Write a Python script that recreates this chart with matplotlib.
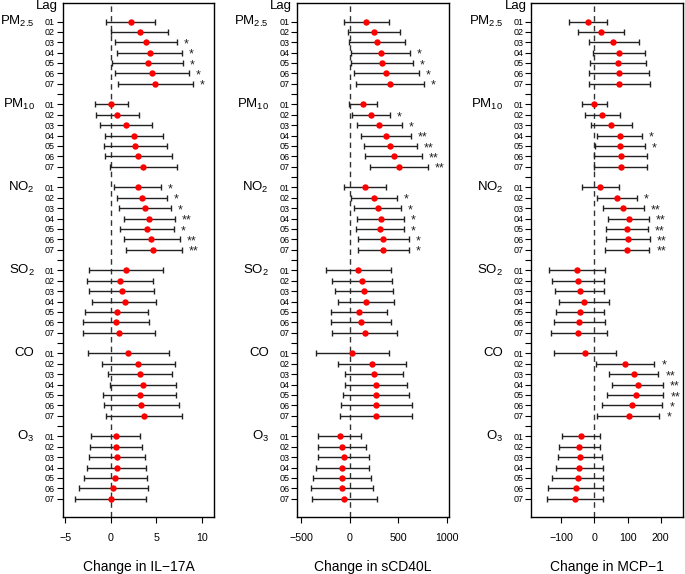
import matplotlib
matplotlib.use("Agg")
import matplotlib.pyplot as plt
import matplotlib.transforms as mtransforms

plt.rcParams["font.family"] = ["Liberation Sans", "DejaVu Sans"]
plt.rcParams["mathtext.default"] = "regular"

POLLUTANTS = ["PM$_{2.5}$", "PM$_{10}$", "NO$_{2}$", "SO$_{2}$", "CO", "O$_{3}$"]
LAGS = ["01", "02", "03", "04", "05", "06", "07"]

# IL-17A: estimate, lower CI, upper CI, significance (one row per pollutant)
IL17_EST = [
    [2.2, 3.2, 3.9, 4.26, 4.08, 4.52, 4.89],
    [0.04, 0.7, 1.62, 2.54, 2.65, 3.01, 3.53],
    [2.94, 3.42, 3.79, 4.23, 3.97, 4.45, 4.67],
    [1.69, 0.99, 1.21, 1.51, 0.63, 0.55, 0.92],
    [1.91, 3.01, 3.24, 3.49, 3.16, 3.35, 3.64],
    [0.59, 0.59, 0.66, 0.66, 0.51, 0.29, 0.0],
]
IL17_LO = [
    [-0.55, 0.0, 0.5, 0.66, 0.18, 0.48, 0.77],
    [-1.73, -1.65, -1.18, -0.63, -0.77, -0.63, -0.11],
    [0.4, 0.66, 0.92, 1.4, 1.03, 1.43, 1.62],
    [-2.35, -2.61, -2.35, -2.06, -2.83, -3.09, -3.05],
    [-2.5, -0.99, -0.26, -0.11, -0.85, -0.77, -0.55],
    [-2.13, -2.32, -2.39, -2.57, -2.98, -3.46, -3.9],
]
IL17_HI = [
    [4.9, 6.3, 7.3, 7.83, 7.94, 8.57, 9.0],
    [1.84, 3.09, 4.49, 5.74, 6.18, 6.73, 7.24],
    [5.51, 6.18, 6.65, 7.02, 6.95, 7.57, 7.79],
    [5.74, 4.63, 4.74, 5.0, 4.08, 4.19, 4.89],
    [6.4, 7.02, 6.69, 7.13, 7.17, 7.54, 7.83],
    [3.2, 3.46, 3.71, 3.9, 4.0, 4.12, 3.9],
]
IL17_SIG = [
    ["", "", "*", "*", "*", "*", "*"],
    ["", "", "", "", "", "", ""],
    ["*", "*", "*", "**", "*", "**", "**"],
    ["", "", "", "", "", "", ""],
    ["", "", "", "", "", "", ""],
    ["", "", "", "", "", "", ""],
]

# sCD40L
CD40_EST = [
    [171, 250, 281, 318, 332, 373, 414],
    [137, 219, 305, 373, 418, 452, 507],
    [158, 250, 288, 318, 312, 346, 342],
    [89, 127, 147, 168, 96, 116, 154],
    [27, 226, 250, 271, 271, 271, 267],
    [-103, -82, -62, -75, -79, -82, -55],
]
CD40_LO = [
    [-55, -17, -3, 17, 10, 41, 68],
    [-10, 24, 75, 116, 144, 158, 212],
    [-58, 17, 45, 79, 62, 89, 82],
    [-243, -182, -147, -123, -192, -188, -182],
    [-342, -120, -51, -45, -72, -86, -99],
    [-322, -325, -322, -349, -377, -401, -384],
]
CD40_HI = [
    [401, 521, 565, 623, 654, 716, 764],
    [281, 418, 538, 634, 695, 747, 805],
    [377, 490, 531, 558, 558, 606, 610],
    [425, 432, 445, 459, 387, 421, 486],
    [401, 579, 548, 589, 616, 637, 637],
    [120, 164, 202, 202, 223, 236, 277],
]
CD40_SIG = [
    ["", "", "", "*", "*", "*", "*"],
    ["", "*", "*", "**", "**", "**", "**"],
    ["", "*", "*", "*", "*", "*", "*"],
    ["", "", "", "", "", "", ""],
    ["", "", "", "", "", "", ""],
    ["", "", "", "", "", "", ""],
]

# MCP-1
MCP_EST = [
    [-20, 20, 57, 74, 72, 74, 75],
    [-1, 23, 51, 76, 77, 79, 79],
    [18, 67, 87, 104, 98, 101, 98],
    [-52, -50, -44, -31, -43, -46, -48],
    [-28, 92, 119, 130, 124, 114, 103],
    [-40, -45, -42, -46, -50, -56, -59],
]
MCP_LO = [
    [-77, -49, -17, -4, -12, -15, -16],
    [-38, -28, -9, 9, 3, 0, 0],
    [-38, 9, 26, 42, 36, 34, 31],
    [-136, -128, -119, -108, -117, -123, -132],
    [-123, 4, 45, 52, 38, 22, 9],
    [-97, -107, -109, -117, -127, -139, -144],
]
MCP_HI = [
    [39, 89, 133, 151, 156, 164, 168],
    [38, 76, 113, 144, 151, 160, 160],
    [75, 129, 149, 164, 162, 167, 166],
    [33, 28, 30, 44, 30, 32, 37],
    [66, 181, 193, 207, 208, 205, 196],
    [16, 16, 24, 25, 25, 25, 25],
]
MCP_SIG = [
    ["", "", "", "", "", "", ""],
    ["", "", "", "*", "*", "", ""],
    ["", "*", "**", "**", "**", "**", "**"],
    ["", "", "", "", "", "", ""],
    ["", "*", "**", "**", "**", "*", "*"],
    ["", "", "", "", "", "", ""],
]

PANELS = [
    ("Change in IL\u221217A", IL17_EST, IL17_LO, IL17_HI, IL17_SIG,
     (-5.3, 11.4), [-5, 0, 5, 10]),
    ("Change in sCD40L", CD40_EST, CD40_LO, CD40_HI, CD40_SIG,
     (-541, 1020), [-500, 0, 500, 1000]),
    ("Change in MCP\u22121", MCP_EST, MCP_LO, MCP_HI, MCP_SIG,
     (-190, 267), [-100, 0, 100, 200]),
]

LEFTS = [0.0915, 0.4336, 0.7756]
WIDTH = 0.2215
BOTTOM = 0.0988
HEIGHT = 0.8968
STEP = len(LAGS) + 1

fig = plt.figure(figsize=(6.85, 5.74), dpi=100)

for left, (xlabel, est, lo, hi, sig, xlim, xticks) in zip(LEFTS, PANELS):
    ax = fig.add_axes([left, BOTTOM, WIDTH, HEIGHT])
    ax.axvline(0, color="#333333", lw=1.0, ls=(0, (4, 3)), zorder=1)
    trans = mtransforms.blended_transform_factory(ax.transAxes, ax.transData)

    ypos, ylabels = [], []
    for g, name in enumerate(POLLUTANTS):
        ys = [g * STEP + k for k in range(len(LAGS))]
        xerr = [[e - l for e, l in zip(est[g], lo[g])],
                [h - e for e, h in zip(est[g], hi[g])]]
        # capsize is half the cap length in matplotlib
        ax.errorbar(est[g], ys, xerr=xerr, fmt="none", ecolor="#222222",
                    elinewidth=1.0, capsize=2.5, capthick=1.0, zorder=2)
        ax.plot(est[g], ys, "o", color="red", ms=4.6, mec="none", zorder=3)
        for y, h, s in zip(ys, hi[g], sig[g]):
            if s:
                ax.annotate(s, (h, y), xytext=(5, -1.5), textcoords="offset points",
                            ha="left", va="center", fontsize=9, color="#222222")
        ax.text(-0.185, ys[0], name, transform=trans, ha="right", va="center",
                fontsize=9.5)
        ypos += ys
        ylabels += LAGS
        if g < len(POLLUTANTS) - 1:
            ypos.append(g * STEP + len(LAGS))
            ylabels.append("")

    ax.text(-0.104, -1.45, "Lag", transform=trans, ha="center", va="center",
            fontsize=9.5)

    ax.set_yticks(ypos)
    ax.set_yticklabels(ylabels, fontsize=6.5)
    ax.set_ylim(47.8, -1.83)
    ax.set_xlim(*xlim)
    ax.set_xticks(xticks)
    ax.tick_params(axis="y", length=4, width=0.8, pad=1.5)
    ax.tick_params(axis="x", length=4.5, width=0.8, labelsize=7.7, pad=7)
    ax.set_xlabel(xlabel, fontsize=10, labelpad=12)
    for sp in ax.spines.values():
        sp.set_linewidth(1.0)

fig.savefig("out.png", dpi=100)
